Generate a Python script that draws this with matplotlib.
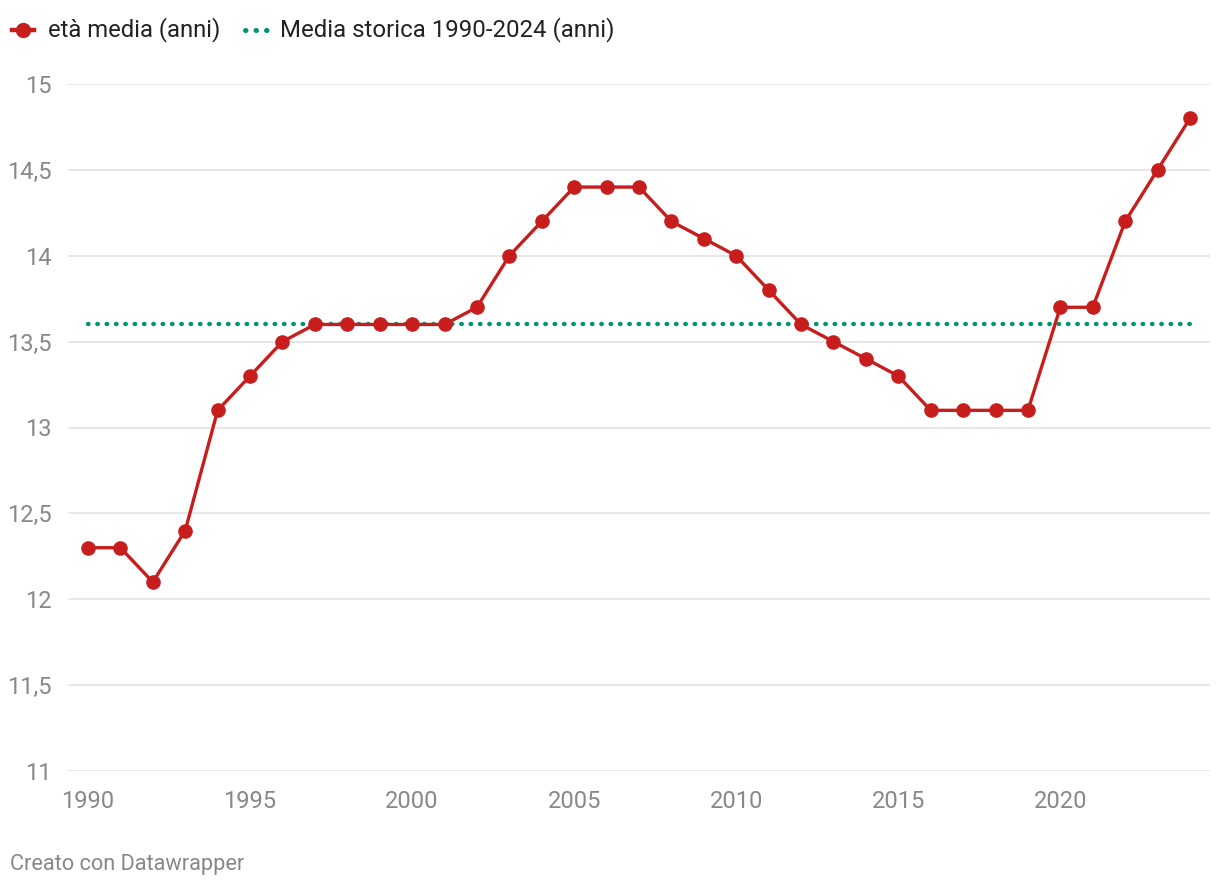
import matplotlib
matplotlib.use("Agg")
import matplotlib.pyplot as plt
from matplotlib.lines import Line2D

years = list(range(1990, 2025))
eta_media = [12.3, 12.3, 12.1, 12.4, 13.1, 13.3, 13.5, 13.6, 13.6, 13.6,
             13.6, 13.6, 13.7, 14.0, 14.2, 14.4, 14.4, 14.4, 14.2, 14.1,
             14.0, 13.8, 13.6, 13.5, 13.4, 13.3, 13.1, 13.1, 13.1, 13.1,
             13.7, 13.7, 14.2, 14.5, 14.8]
media_storica = 13.6
y_ticks = [11, 11.5, 12, 12.5, 13, 13.5, 14, 14.5, 15]
y_labels = ["11", "11,5", "12", "12,5", "13", "13,5", "14", "14,5", "15"]
x_ticks = [1990, 1995, 2000, 2005, 2010, 2015, 2020]

RED = "#c71e1d"
GREEN = "#009473"
plt.rcParams['font.family'] = ['Roboto', 'DejaVu Sans']

W, H = 1220, 888
fig = plt.figure(figsize=(W/100, H/100), dpi=100)
left, right, top, bottom = 68, 1210, 84, 771
ax = fig.add_axes([left/W, 1-bottom/H, (right-left)/W, (bottom-top)/H])
ppy = (1190-88)/34
ax.set_xlim(1990 - (88-left)/ppy, 2024 + (right-1190)/ppy)
ax.set_ylim(11, 15)

for yt in y_ticks:
    ax.axhline(yt, color="#e0e0e0", lw=1.1, zorder=0)

ax.plot([years[0], years[-1]], [media_storica]*2, color=GREEN, lw=3.2,
        linestyle=(0, (0.1, 2.0)), dash_capstyle="round", zorder=2)
ax.plot(years, eta_media, color=RED, lw=2.4, marker="o", markersize=9.5,
        zorder=3, clip_on=False)

for s in ax.spines.values():
    s.set_visible(False)
ax.set_yticks(y_ticks)
ax.set_yticklabels(y_labels)
ax.set_xticks(x_ticks)
ax.set_xticklabels([str(x) for x in x_ticks])
ax.tick_params(axis="both", length=0, labelsize=17, labelcolor="#888888")
ax.tick_params(axis="y", pad=12)
ax.tick_params(axis="x", pad=14)

# legend
ly = 1 - 30/H
fig.add_artist(Line2D([12/W, 34/W], [ly, ly], color=RED, lw=3.2))
fig.add_artist(Line2D([23/W], [ly], color=RED, marker="o", markersize=10, lw=0))
fig.text(48/W, ly, "età media (anni)", fontsize=17.2, color="#222222", va="center", ha="left")
fig.add_artist(Line2D([245/W, 268/W], [ly, ly], color=GREEN, lw=3.6,
                      linestyle=(0, (0.1, 2.0)), dash_capstyle="round"))
fig.text(280/W, ly, "Media storica 1990-2024 (anni)", fontsize=17.3, color="#222222",
         va="center", ha="left")

fig.text(10/W, 1-864/H, "Creato con Datawrapper", fontsize=15.7, color="#888888",
         va="center", ha="left")

fig.savefig("out.png", dpi=100)
